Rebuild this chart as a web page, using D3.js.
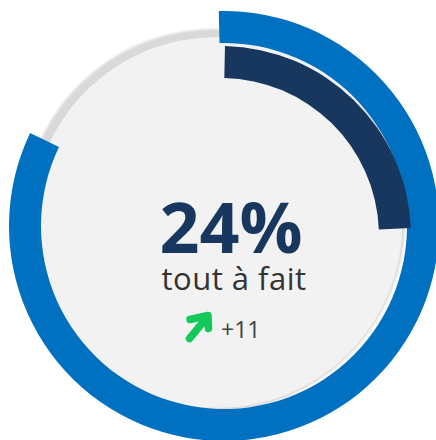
<!DOCTYPE html>
<html>
<head>
<meta charset="utf-8">
<script src="https://cdn.jsdelivr.net/npm/d3@7/dist/d3.min.js"></script>
<style>
  html, body { margin: 0; padding: 0; background: #ffffff; }
  svg { display: block; }
</style>
</head>
<body>
<svg id="chart" width="436" height="440"></svg>
<script>
// Ring values, in percent
const ringNames = ["ensemble", "tout à fait"];
const ringValues = [82.5, 24];
// Headline figure, caption and change versus the previous wave
const headlineValues = [24];
const captionLabels = ["tout à fait"];
const deltaValues = [11];

const svg = d3.select("#chart");
const angle = d3.scaleLinear().domain([0, 100]).range([0, 2 * Math.PI]);
const deg = Math.PI / 180;

// Background plate: soft grey rim with a light disc on top
const defs = svg.append("defs");
defs.append("filter").attr("id", "soft")
  .attr("x", "-10%").attr("y", "-10%").attr("width", "120%").attr("height", "120%")
  .append("feGaussianBlur").attr("stdDeviation", 0.8);

svg.append("circle")
  .attr("cx", 214).attr("cy", 220).attr("r", 191)
  .attr("fill", "#d9d9d9")
  .attr("filter", "url(#soft)");
svg.append("circle")
  .attr("cx", 217).attr("cy", 222.5).attr("r", 185.5)
  .attr("fill", "#f2f2f2");

// Ring geometry
const rings = [
  { name: ringNames[0], value: ringValues[0], cx: 224, cy: 226, r0: 183, r1: 215, rot: -1.4 * deg, color: "#0070c0" },
  { name: ringNames[1], value: ringValues[1], cx: 221, cy: 236, r0: 158, r1: 190, rot: 1.2 * deg, color: "#17375e" }
];

rings.forEach(d => {
  const arc = d3.arc()
    .innerRadius(d.r0)
    .outerRadius(d.r1)
    .startAngle(d.rot)
    .endAngle(d.rot + angle(d.value));
  svg.append("path")
    .attr("transform", `translate(${d.cx},${d.cy})`)
    .attr("d", arc())
    .attr("fill", d.color);
});

// Central figure
svg.append("text")
  .attr("x", 231).attr("y", 253)
  .attr("text-anchor", "middle")
  .attr("font-family", "'Open Sans', sans-serif")
  .attr("font-weight", 700)
  .attr("font-size", 70)
  .attr("fill", "#17375e")
  .text(headlineValues[0] + "%");

svg.append("text")
  .attr("x", 234).attr("y", 290)
  .attr("text-anchor", "middle")
  .attr("font-family", "'Open Sans', sans-serif")
  .attr("font-size", 31)
  .attr("letter-spacing", 0.5)
  .attr("fill", "#333333")
  .text(captionLabels[0]);

// Change indicator
const delta = deltaValues[0];
if (delta > 0) {
  svg.append("path")
    .attr("d", "M189.5,338.5 L207,317.5 M190,319.5 L208,315.5 L208.5,328.5")
    .attr("fill", "none")
    .attr("stroke", "#14c95a")
    .attr("stroke-width", 7.5)
    .attr("stroke-linecap", "round")
    .attr("stroke-linejoin", "round");
}
svg.append("text")
  .attr("x", 221).attr("y", 338)
  .attr("font-family", "'Open Sans', sans-serif")
  .attr("font-size", 23)
  .attr("fill", "#404040")
  .text((delta > 0 ? "+" : "") + delta);
</script>
</body>
</html>
